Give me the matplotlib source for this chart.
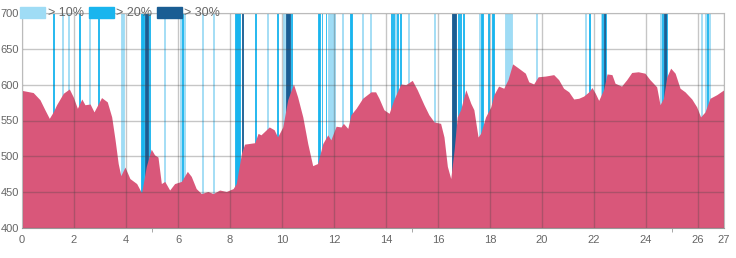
import matplotlib
matplotlib.use("Agg")
import matplotlib.pyplot as plt
from matplotlib.patches import Patch

plt.rcParams['font.family'] = ['Liberation Sans', 'DejaVu Sans']

# elevation profile (km, m)
km = [0, 0.43, 0.69, 0.88, 1.05, 1.2, 1.33, 1.59, 1.82, 1.97, 2.13, 2.3, 2.42, 2.62, 2.77,
      3.06, 3.28, 3.45, 3.58, 3.7, 3.8, 3.96, 4.15, 4.41, 4.6, 4.78, 4.97, 5.1, 5.23, 5.36,
      5.49, 5.68, 5.87, 6.13, 6.36, 6.51, 6.7, 6.9, 7.15, 7.35, 7.6, 7.86, 8.12, 8.24, 8.44,
      8.56, 8.95, 9.08, 9.19, 9.51, 9.7, 9.83, 10.03, 10.22, 10.44, 10.6, 10.8, 10.99, 11.18,
      11.37, 11.57, 11.76, 11.88, 12.08, 12.27, 12.36, 12.53, 12.65, 12.85, 13.1, 13.42, 13.6,
      13.73, 13.92, 14.12, 14.3, 14.57, 14.76, 15.01, 15.2, 15.46, 15.65, 15.85, 16.1, 16.23,
      16.36, 16.49, 16.62, 16.74, 16.87, 17.07, 17.26, 17.38, 17.54, 17.64, 17.83, 18.03,
      18.15, 18.33, 18.53, 18.69, 18.87, 19.1, 19.36, 19.49, 19.68, 19.85, 20.13, 20.45,
      20.64, 20.83, 21.03, 21.22, 21.41, 21.6, 21.8, 21.92, 22.05, 22.18, 22.37, 22.5, 22.69,
      22.81, 23.06, 23.26, 23.45, 23.7, 23.96, 24.15, 24.41, 24.54, 24.67, 24.8, 24.95, 25.12,
      25.31, 25.5, 25.76, 25.95, 26.1, 26.27, 26.46, 26.72, 27.0]
elev = [592, 589, 579, 565, 553, 562, 572, 588, 594, 583, 567, 580, 572, 573, 562,
        582, 576, 555, 523, 490, 473, 485, 469, 462, 449, 486, 510, 502, 499, 462,
        465, 453, 462, 465, 479, 472, 455, 448, 451, 448, 453, 451, 455, 462, 504,
        517, 519, 532, 530, 541, 537, 527, 541, 579, 601, 583, 555, 518, 487,
        490, 518, 530, 523, 542, 541, 546, 539, 558, 567, 581, 590, 590,
        581, 565, 560, 579, 601, 600, 606, 593, 572, 558, 548, 546, 527,
        486, 469, 509, 555, 565, 593, 574, 565, 527, 532, 555, 569,
        586, 598, 595, 607, 629, 623, 616, 604, 601, 611, 612, 614,
        607, 595, 590, 580, 581, 584, 590, 596, 588, 578, 593, 615, 614,
        602, 598, 607, 617, 618, 616, 607, 597, 572, 581, 611, 623, 616,
        595, 590, 580, 569, 555, 562, 581, 586, 593]

# steep sections (start km, end km)
slope_10 = [(1.55, 1.58), (1.76, 1.80), (2.57, 2.61), (3.80, 3.93), (5.45, 5.50), (6.06, 6.10),
            (6.22, 6.25), (6.94, 6.98), (7.36, 7.40), (9.42, 9.46), (10.04, 10.13),
            (11.78, 12.04), (12.30, 12.34), (13.06, 13.10), (13.37, 13.41), (14.36, 14.40),
            (14.86, 14.90), (15.84, 15.88), (17.58, 17.62), (18.56, 18.84), (19.77, 19.82),
            (21.65, 21.70), (22.26, 22.29), (24.54, 24.58), (26.12, 26.16), (26.28, 26.32),
            (26.42, 26.47)]
slope_20 = [(1.19, 1.22), (2.18, 2.22), (2.94, 2.98), (4.58, 4.68), (4.88, 4.93), (6.17, 6.21),
            (8.20, 8.40), (8.98, 9.01), (9.81, 9.86), (10.34, 10.38), (11.40, 11.47),
            (11.52, 11.55), (11.68, 11.71), (12.61, 12.70), (14.20, 14.24), (14.28, 14.31),
            (14.44, 14.48), (14.55, 14.59), (16.78, 16.81), (16.86, 16.89), (16.95, 16.99),
            (17.66, 17.72), (17.92, 17.96), (18.06, 18.16), (21.79, 21.85), (22.32, 22.35),
            (22.44, 22.47), (24.62, 24.66), (24.78, 24.82), (26.35, 26.38)]
slope_30 = [(4.74, 4.86), (8.45, 8.50), (10.17, 10.30), (16.55, 16.70), (22.38, 22.44),
            (24.70, 24.76)]

slope_labels = ['> 10%', '> 20%', '> 30%']
slope_colors = ['#9fdcf5', '#19b5ee', '#1a5d93']

x_ticks = [0, 2, 4, 6, 8, 10, 12, 14, 16, 18, 20, 22, 24, 26, 27]
y_ticks = [400, 450, 500, 550, 600, 650, 700]

fig = plt.figure(figsize=(7.36, 2.58), dpi=100)
ax = fig.add_axes([22 / 736, 1 - 228 / 258, 702 / 736, 215 / 258])

for segs, col in zip([slope_10, slope_20, slope_30], slope_colors):
    for a, b in segs:
        ax.axvspan(a, b, facecolor=col, edgecolor=col, lw=0.6, zorder=1)

ax.fill_between(km, 400, elev, color='#d9577a', lw=0, zorder=2)

ax.set_xlim(0, 27)
ax.set_ylim(400, 700)
ax.set_xticks(x_ticks)
ax.set_yticks(y_ticks)
ax.set_xticks([5, 15, 25], minor=True)
ax.tick_params(axis='both', which='major', length=0, labelsize=8, labelcolor='#666666')
ax.tick_params(axis='y', which='major', pad=2)
ax.tick_params(axis='x', which='major', pad=5)
ax.tick_params(axis='x', which='minor', length=3, color='#999999')
ax.grid(True, color='#444444', alpha=0.3, lw=1, zorder=3)
ax.set_axisbelow(False)
for s in ax.spines.values():
    s.set_color('#bbbbbb')
    s.set_zorder(4)
ax.spines['bottom'].set_color('#999999')

handles = [Patch(color=c, label=l) for c, l in zip(slope_colors, slope_labels)]
leg = fig.legend(handles=handles, loc='center left', bbox_to_anchor=(20 / 736, 1 - 13 / 258),
                 ncol=3, frameon=False, fontsize=9, handlelength=2.0, handleheight=1.0,
                 handletextpad=0.2, columnspacing=0.4, borderaxespad=0, borderpad=0)
for t in leg.get_texts():
    t.set_color('#666666')

fig.savefig('out.png', dpi=100)
